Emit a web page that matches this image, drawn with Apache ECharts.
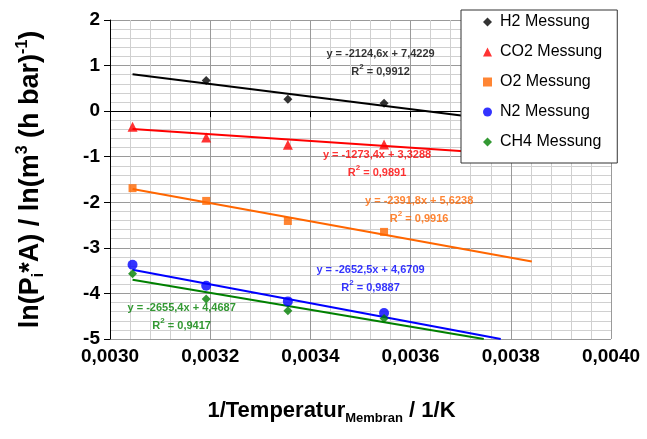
<!DOCTYPE html>
<html>
<head>
<meta charset="utf-8">
<script src="https://cdn.jsdelivr.net/npm/echarts@6/dist/echarts.min.js"></script>
<style>html,body{margin:0;padding:0;background:#fff}#c{width:647px;height:439px}</style>
</head>
<body>
<div id="c"></div>
<script>
// Measured x positions (1/K)
const xVals = [0.003045, 0.003192, 0.003355, 0.003547];
// Measurement values ln(Pi*A)
const h2Vals  = [null, 0.67, 0.26, 0.175];
const co2Vals = [-0.34, -0.58, -0.74, -0.73];
const o2Vals  = [-1.69, -1.97, -2.41, -2.65];
const n2Vals  = [-3.37, -3.83, -4.175, -4.43];
const ch4Vals = [-3.57, -4.12, -4.38, -4.55];
// Trend line end points [x, y]
const h2Trend  = [[0.003045, 0.81], [0.00384, -0.29]];
const co2Trend = [[0.003045, -0.39], [0.00384, -0.98]];
const o2Trend  = [[0.003045, -1.71], [0.003842, -3.30]];
const n2Trend  = [[0.003045, -3.48], [0.00378, -5.0]];
const ch4Trend = [[0.003045, -3.70], [0.003746, -5.0]];
// Equation labels: [x, y, text, R2]
const h2Eq  = [0.00354, 1.05, 'y = -2124,6x + 7,4229', '0,9912'];
const co2Eq = [0.003533, -1.15, 'y = -1273,4x + 3,3288', '0,9891'];
const o2Eq  = [0.003617, -2.16, 'y = -2391,8x + 5,6238', '0,9916'];
const n2Eq  = [0.00352, -3.68, 'y = -2652,5x + 4,6709', '0,9887'];
const ch4Eq = [0.003143, -4.52, 'y = -2655,4x + 4,4687', '0,9417'];
const names = ['H2 Messung', 'CO2 Messung', 'O2 Messung', 'N2 Messung', 'CH4 Messung'];
const colors = ['#000000', '#FF0000', '#FF6600', '#0000FF', '#008000'];
const symbols = ['diamond', 'triangle', 'rect', 'circle', 'diamond'];
const symSizes = [9, 10, 8, 10, 9];
const xTicks = {min: 0.003, max: 0.004, interval: 0.0002};
const yTicks = {min: -5, max: 2, interval: 1};

const valsList = [h2Vals, co2Vals, o2Vals, n2Vals, ch4Vals];
const trends = [h2Trend, co2Trend, o2Trend, n2Trend, ch4Trend];
const eqs = [h2Eq, co2Eq, o2Eq, n2Eq, ch4Eq];

const series = [];
trends.forEach((t, i) => {
  series.push({
    type: 'line', name: names[i] + ' Trend', data: t, symbol: 'none',
    lineStyle: {color: colors[i], width: 2}, silent: true, z: 2
  });
});
valsList.forEach((v, i) => {
  const d = [];
  v.forEach((y, j) => { if (y !== null) d.push([xVals[j], y]); });
  series.push({
    type: 'scatter', name: names[i], data: d, symbol: symbols[i], symbolSize: symSizes[i],
    itemStyle: {color: colors[i]}, z: 3
  });
});
eqs.forEach((e, i) => {
  series.push({
    type: 'scatter', name: 'eq' + i, data: [[e[0], e[1]]], symbolSize: 0, silent: true, z: 4,
    label: {
      show: true, position: 'inside',
      formatter: '{t|' + e[2] + '}\n{t|R}{s|2}{t| = ' + e[3] + '}',
      rich: {
        t: {fontFamily: 'Liberation Sans, Arial', fontWeight: 'bold', fontSize: 11, color: colors[i], lineHeight: 18, align: 'center'},
        s: {fontFamily: 'Liberation Sans, Arial', fontWeight: 'bold', fontSize: 8, color: colors[i], lineHeight: 18, verticalAlign: 'top', padding: [0, 0, 0, 0]}
      }
    }
  });
});

const chart = echarts.init(document.getElementById('c'));
chart.setOption({
  animation: false,
  backgroundColor: '#fff',
  grid: {left: 110, right: 36, top: 20, bottom: 100, containLabel: false},
  legend: {
    data: names.map((n, i) => ({name: n, icon: symbols[i]})),
    orient: 'vertical', left: 461, top: 10,
    itemWidth: 9, itemHeight: 9, itemGap: 14,
    padding: [4, 15, 13, 22],
    backgroundColor: '#fff', borderColor: '#333', borderWidth: 1,
    textStyle: {fontFamily: 'Liberation Sans, Arial', fontSize: 16, color: '#000', lineHeight: 16, padding: [0, 0, 0, 3]},
    selectedMode: false
  },
  xAxis: {
    type: 'value', min: xTicks.min, max: xTicks.max, interval: xTicks.interval,
    axisLine: {show: true, lineStyle: {color: '#000', width: 1}},
    axisTick: {show: true, length: 6, lineStyle: {color: '#000'}},
    axisLabel: {
      fontFamily: 'Liberation Sans, Arial', fontWeight: 'bold', fontSize: 19, color: '#000', margin: 8,
      formatter: v => v.toFixed(4).replace('.', ',')
    },
    splitLine: {show: true, lineStyle: {color: '#9a9a9a', width: 1}},
    minorTick: {show: false, splitNumber: 5},
    minorSplitLine: {show: true, lineStyle: {color: '#d0d0d0', width: 1}},
    name: '{a|1/Temperatur}{b|Membran}{a| / 1/K}',
    nameLocation: 'middle', nameGap: 58,
    nameTextStyle: {
      padding: [0, 58, 0, 0],
      rich: {
        a: {fontFamily: 'Liberation Sans, Arial', fontWeight: 'bold', fontSize: 22, color: '#000', lineHeight: 28},
        b: {fontFamily: 'Liberation Sans, Arial', fontWeight: 'bold', fontSize: 13, color: '#000', lineHeight: 13, verticalAlign: 'bottom'}
      }
    }
  },
  yAxis: {
    type: 'value', min: yTicks.min, max: yTicks.max, interval: yTicks.interval,
    axisLine: {show: true, lineStyle: {color: '#000', width: 1}},
    axisTick: {show: true, length: 6, lineStyle: {color: '#000'}},
    axisLabel: {fontFamily: 'Liberation Sans, Arial', fontWeight: 'bold', fontSize: 19, color: '#000', margin: 10},
    splitLine: {show: true, lineStyle: {color: '#9a9a9a', width: 1}},
    minorTick: {show: false, splitNumber: 5},
    minorSplitLine: {show: true, lineStyle: {color: '#d0d0d0', width: 1}},
    name: '{a|ln(P}{b|i}{a|*A) / ln(m}{c|3}{a| (h bar)}{c|-1}{a|)}',
    nameLocation: 'middle', nameGap: 63, nameRotate: 90,
    nameTextStyle: {
      rich: {
        a: {fontFamily: 'Liberation Sans, Arial', fontWeight: 'bold', fontSize: 27, color: '#000', lineHeight: 32},
        b: {fontFamily: 'Liberation Sans, Arial', fontWeight: 'bold', fontSize: 16, color: '#000', lineHeight: 16, verticalAlign: 'bottom'},
        c: {fontFamily: 'Liberation Sans, Arial', fontWeight: 'bold', fontSize: 16, color: '#000', lineHeight: 16, verticalAlign: 'top'}
      }
    }
  },
  series: series
});
</script>
</body>
</html>
